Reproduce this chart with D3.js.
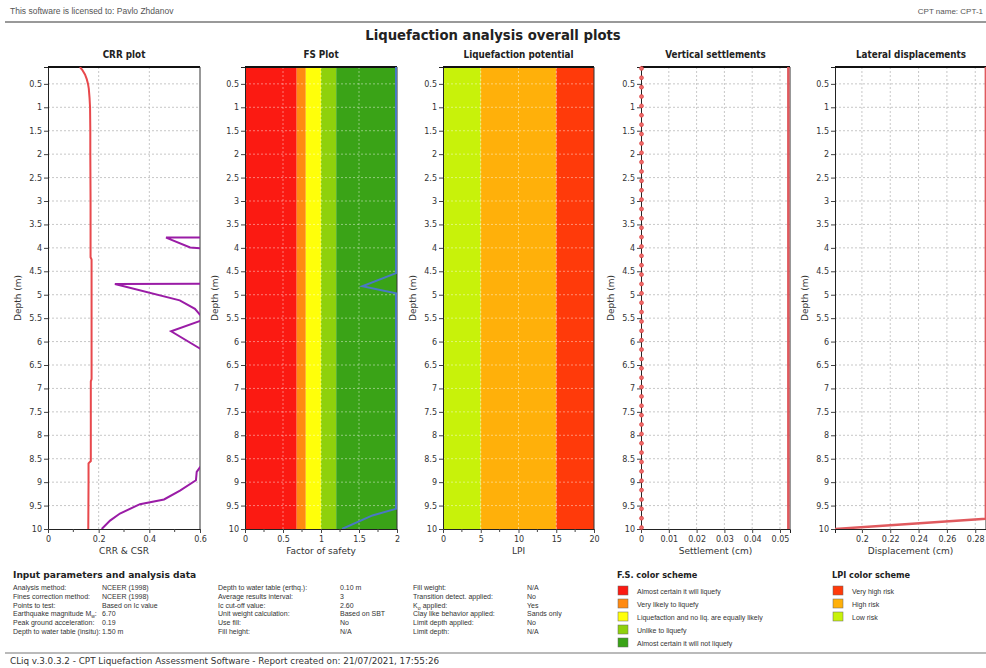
<!DOCTYPE html>
<html>
<head>
<meta charset="utf-8">
<script src="https://cdn.jsdelivr.net/npm/d3@7"></script>
<style>
  html, body { margin: 0; padding: 0; background: #fff; }
  svg { display: block; }
  text { font-family: "DejaVu Sans", sans-serif; }
  text.small { font-family: "Liberation Sans", "DejaVu Sans", sans-serif; }
  text.cond { font-family: "DejaVu Sans Condensed", "DejaVu Sans", sans-serif; }
</style>
</head>
<body>
<svg id="chart" width="986" height="668"></svg>
<script>
// ---- Data ----------------------------------------------------------------
const depthTicks = [0.5, 1, 1.5, 2, 2.5, 3, 3.5, 4, 4.5, 5, 5.5, 6, 6.5, 7, 7.5, 8, 8.5, 9, 9.5, 10];

// Cyclic stress ratio (CSR) profile
const csrDepth = [0.14, 0.2, 0.3, 0.4, 0.5, 0.6, 0.8, 1.0, 1.5, 2, 3, 4.2, 4.25, 5, 6, 6.8, 6.85, 8, 8.55, 8.6, 9, 10];
const csrValue = [0.126, 0.135, 0.146, 0.153, 0.158, 0.161, 0.164, 0.166, 0.167, 0.167, 0.168, 0.168, 0.172, 0.172, 0.172, 0.172, 0.169, 0.169, 0.169, 0.160, 0.160, 0.159];

// Cyclic resistance ratio (CRR) profile; non-liquefiable layers carry a capped value of 4
const crrDepth = [0.14, 3.75, 3.78, 3.99, 4.01, 4.03, 4.75, 4.77, 5.12, 5.3, 5.43, 5.45, 5.54, 5.56, 5.78, 6.15, 6.17, 8.66, 8.68, 8.78, 8.96, 9.18, 9.37, 9.47, 9.67, 9.82, 10.0];
const crrValue = [4.0, 4.0, 0.466, 0.561, 0.6, 4.0, 4.0, 0.264, 0.52, 0.58, 0.6, 4.0, 4.0, 0.6, 0.486, 0.6, 4.0, 4.0, 0.6, 0.587, 0.584, 0.521, 0.458, 0.363, 0.284, 0.245, 0.212];

// Factor of safety (capped at 2)
const fsDepth = [0.14, 4.54, 4.82, 4.97, 9.57, 9.71, 10.0];
const fsValue = [2, 2, 1.557, 2, 2, 1.69, 1.29];

// Colour bands
const fsBandLimits = [0, 0.68, 0.8, 1.0, 1.2, 2];
const fsBandColors = ["#fb1a12", "#ff8a12", "#ffff0a", "#8fd10c", "#3aa317"];
const fsBandNames = ["Almost certain it will liquefy", "Very likely to liquefy", "Liquefaction and no liq. are equally likely", "Unlike to liquefy", "Almost certain it will not liquefy"];

const lpiBandLimits = [0, 5, 15, 20];
const lpiBandColors = ["#c8f20a", "#ffb00a", "#ff3a0a"];
const lpiBandNames = ["Very high risk", "High risk", "Low risk"];
const lpiLegendColors = ["#ff3a0a", "#ffb00a", "#c8f20a"];

// Vertical settlements
const settlementDepth = [0.14, 10.0];
const settlementValue = [0.053, 0.053];
const layerDepth = [0.17, 0.37, 0.57, 0.77, 0.97, 1.17, 1.37, 1.57, 1.77, 1.97, 2.17, 2.37, 2.57, 2.77, 2.97, 3.17, 3.37, 3.57, 3.77, 3.97, 4.17, 4.37, 4.57, 4.77, 4.97, 5.17, 5.37, 5.57, 5.77, 5.97, 6.17, 6.37, 6.57, 6.77, 6.97, 7.17, 7.37, 7.57, 7.77, 7.97, 8.17, 8.37, 8.57, 8.77, 8.97, 9.17, 9.37, 9.57, 9.77, 9.97];
const layerSettlement = [0, 0, 0, 0, 0, 0, 0, 0, 0, 0, 0, 0, 0, 0, 0, 0, 0, 0, 0, 0, 0, 0, 0, 0, 0, 0, 0, 0, 0, 0, 0, 0, 0, 0, 0, 0, 0, 0, 0, 0, 0, 0, 0, 0, 0, 0, 0, 0, 0, 0];

// Lateral displacements
const lateralDepth = [0.14, 9.78, 10.0];
const lateralValue = [0.2875, 0.2875, 0.181];

// Input parameters table; "_" marks a subscript
const paramLabels1 = ["Analysis method:", "Fines correction method:", "Points to test:", "Earthquake magnitude M_w:", "Peak ground acceleration:", "Depth to water table (insitu):"];
const paramValues1 = ["NCEER (1998)", "NCEER (1998)", "Based on Ic value", "6.70", "0.19", "1.50 m"];
const paramLabels2 = ["Depth to water table (erthq.):", "Average results interval:", "Ic cut-off value:", "Unit weight calculation:", "Use fill:", "Fill height:"];
const paramValues2 = ["0.10 m", "3", "2.60", "Based on SBT", "No", "N/A"];
const paramLabels3 = ["Fill weight:", "Transition detect. applied:", "K_σ applied:", "Clay like behavior applied:", "Limit depth applied:", "Limit depth:"];
const paramValues3 = ["N/A", "No", "Yes", "Sands only", "No", "N/A"];

// ---- Layout --------------------------------------------------------------
const svg = d3.select("#chart");
const yTop = 67, yBot = 529;
const y = d3.scaleLinear().domain([0.14, 10]).range([yTop, yBot]);

const panels = [
  { id: "crr", title: "CRR plot", x0: 48, x1: 200, domain: [0, 0.6], major: [0, 0.2, 0.4, 0.6], minor: [0.1, 0.3, 0.5], xlabel: "CRR & CSR" },
  { id: "fs", title: "FS Plot", x0: 245, x1: 397, domain: [0, 2], major: [0, 0.5, 1, 1.5, 2], minor: [0.25, 0.75, 1.25, 1.75], xlabel: "Factor of safety" },
  { id: "lpi", title: "Liquefaction potential", x0: 443, x1: 594, domain: [0, 20], major: [0, 5, 10, 15, 20], minor: [2.5, 7.5, 12.5, 17.5], xlabel: "LPI" },
  { id: "set", title: "Vertical settlements", x0: 641, x1: 790, domain: [0, 0.0536], major: [0, 0.01, 0.02, 0.03, 0.04, 0.05], minor: [], xlabel: "Settlement (cm)" },
  { id: "lat", title: "Lateral displacements", x0: 835, x1: 986, domain: [0.181, 0.2876], major: [0.2, 0.22, 0.24, 0.26, 0.28], minor: [], xlabel: "Displacement (cm)", titleX: 911 }
];

// ---- Header --------------------------------------------------------------
svg.append("text").attr("class", "small").attr("x", 10).attr("y", 14).attr("font-size", 8.5).attr("fill", "#555")
  .text("This software is licensed to: Pavlo Zhdanov");
svg.append("text").attr("class", "small").attr("x", 983).attr("y", 14).attr("text-anchor", "end")
  .attr("font-size", 8).attr("fill", "#555").text("CPT name: CPT-1");
svg.append("line").attr("x1", 5).attr("x2", 986).attr("y1", 22).attr("y2", 22)
  .attr("stroke", "#777").attr("stroke-width", 1.5);
svg.append("text").attr("class", "cond").attr("x", 493).attr("y", 40).attr("text-anchor", "middle")
  .attr("font-size", 14.7).attr("font-weight", "bold").attr("fill", "#222")
  .text("Liquefaction analysis overall plots");

const line = d3.line().x(d => d[0]).y(d => d[1]);

panels.forEach(p => {
  const x = d3.scaleLinear().domain(p.domain).range([p.x0, p.x1]);
  p.x = x;
  const g = svg.append("g");
  const clipId = "clip-" + p.id;
  svg.append("clipPath").attr("id", clipId)
    .append("rect").attr("x", p.x0).attr("y", yTop).attr("width", p.x1 - p.x0).attr("height", yBot - yTop);
  p.clip = "url(#" + clipId + ")";

  // title
  g.append("text").attr("class", "cond").attr("x", p.titleX || (p.x0 + p.x1) / 2).attr("y", 58).attr("text-anchor", "middle")
    .attr("font-size", 9.8).attr("font-weight", "bold").attr("fill", "#222").text(p.title);

  // colour bands
  if (p.id === "fs" || p.id === "lpi") {
    const lim = p.id === "fs" ? fsBandLimits : lpiBandLimits;
    const cols = p.id === "fs" ? fsBandColors : lpiBandColors;
    g.selectAll(".band").data(cols).enter().append("rect")
      .attr("x", (d, i) => x(lim[i])).attr("width", (d, i) => x(lim[i + 1]) - x(lim[i]))
      .attr("y", yTop).attr("height", yBot - yTop).attr("fill", d => d);
  }

  // grid
  const gridCol = (p.id === "fs" || p.id === "lpi") ? "rgba(255,255,255,0.55)" : "#b9b9b9";
  g.selectAll(".hg").data(depthTicks.filter(d => d < 10)).enter().append("line")
    .attr("x1", p.x0).attr("x2", p.x1).attr("y1", d => y(d)).attr("y2", d => y(d))
    .attr("stroke", gridCol).attr("stroke-width", 0.8).attr("stroke-dasharray", "2,2");
  g.selectAll(".vg").data(p.major.filter(v => x(v) > p.x0 + 1 && x(v) < p.x1 - 1)).enter().append("line")
    .attr("x1", d => x(d)).attr("x2", d => x(d)).attr("y1", yTop).attr("y2", yBot)
    .attr("stroke", gridCol).attr("stroke-width", 0.8).attr("stroke-dasharray", "2,2");

  // y axis
  const ya = g.append("g").attr("transform", `translate(${p.x0},0)`)
    .call(d3.axisLeft(y).tickValues(depthTicks).tickSize(4).tickPadding(2).tickFormat(d => String(d)));
  ya.select(".domain").attr("stroke", "#222");
  ya.selectAll("line").attr("stroke", "#444");
  ya.selectAll("text").attr("font-size", 8).attr("fill", "#333")
    .style("font-family", '"DejaVu Sans", sans-serif');

  // x axis
  const xa = g.append("g").attr("transform", `translate(0,${yBot})`)
    .call(d3.axisBottom(x).tickValues(p.major).tickSize(4).tickPadding(3).tickFormat(d => String(+d.toFixed(3))));
  xa.select(".domain").attr("stroke", "#222");
  xa.selectAll("line").attr("stroke", "#444");
  xa.selectAll("text").attr("font-size", 8).attr("fill", "#333")
    .style("font-family", '"DejaVu Sans", sans-serif');
  g.selectAll(".minor").data(p.minor).enter().append("line")
    .attr("x1", d => x(d)).attr("x2", d => x(d)).attr("y1", yBot).attr("y2", yBot + 3)
    .attr("stroke", "#444");

  // frame
  g.append("line").attr("x1", p.x0).attr("x2", p.x1).attr("y1", yTop).attr("y2", yTop)
    .attr("stroke", "#111").attr("stroke-width", 2);
  g.append("line").attr("x1", p.x1).attr("x2", p.x1).attr("y1", yTop).attr("y2", yBot)
    .attr("stroke", "#333").attr("stroke-width", 1);

  // labels
  g.append("text").attr("x", (p.x0 + p.x1) / 2).attr("y", 554).attr("text-anchor", "middle")
    .attr("font-size", 9).attr("fill", "#333").text(p.xlabel);
  g.append("text").attr("transform", `translate(${p.x0 - 27},298) rotate(-90)`).attr("text-anchor", "middle")
    .attr("font-size", 9).attr("fill", "#333").text("Depth (m)");
});

// ---- Curves --------------------------------------------------------------
const pC = panels[0], pF = panels[1], pS = panels[3], pL = panels[4];

svg.append("path").attr("clip-path", pC.clip)
  .attr("d", line(csrDepth.map((d, i) => [pC.x(csrValue[i]), y(d)])))
  .attr("fill", "none").attr("stroke", "#e8484c").attr("stroke-width", 2);
svg.append("path").attr("clip-path", pC.clip)
  .attr("d", line(crrDepth.map((d, i) => [pC.x(crrValue[i]), y(d)])))
  .attr("fill", "none").attr("stroke", "#9a1ca6").attr("stroke-width", 2);

svg.append("path").attr("clip-path", pF.clip)
  .attr("d", line(fsDepth.map((d, i) => [pF.x(fsValue[i]) - 1, y(d)])))
  .attr("fill", "none").attr("stroke", "#4a78c4").attr("stroke-width", 2);

svg.append("path").attr("clip-path", pS.clip)
  .attr("d", line(settlementDepth.map((d, i) => [pS.x(settlementValue[i]), y(d)])))
  .attr("fill", "none").attr("stroke", "#e05a5e").attr("stroke-width", 2.5);
svg.selectAll(".layer").data(layerDepth).enter().append("circle")
  .attr("cx", (d, i) => pS.x(layerSettlement[i]) + 0.5).attr("cy", d => y(d)).attr("r", 2)
  .attr("fill", "#f06a6a").attr("stroke", "#d83a3a").attr("stroke-width", 0.6);

svg.append("path").attr("clip-path", pL.clip)
  .attr("d", line(lateralDepth.map((d, i) => [pL.x(lateralValue[i]), y(d)])))
  .attr("fill", "none").attr("stroke", "#e05a5e").attr("stroke-width", 2.5);

// ---- Input parameters ----------------------------------------------------
const rowY = [590, 599, 607.5, 616, 625, 633.5];
const smallSize = 7;
svg.append("text").attr("x", 13).attr("y", 578).attr("font-size", 9.1).attr("font-weight", "bold")
  .attr("fill", "#222").text("Input parameters and analysis data");

// writes a label, turning "X_y" into X with a subscript y
function richText(sel, str) {
  const m = str.match(/^(.*?)_(\S)(.*)$/);
  if (!m) { sel.text(str); return; }
  sel.append("tspan").text(m[1]);
  sel.append("tspan").attr("font-size", smallSize - 2).attr("dy", 2).text(m[2]);
  sel.append("tspan").attr("dy", -2).text(m[3]);
}
function paramColumn(labels, values, xl, xv) {
  labels.forEach((t, i) => {
    richText(svg.append("text").attr("class", "small").attr("x", xl).attr("y", rowY[i])
      .attr("font-size", smallSize).attr("fill", "#333"), t);
    svg.append("text").attr("class", "small").attr("x", xv).attr("y", rowY[i])
      .attr("font-size", smallSize).attr("fill", "#333").text(values[i]);
  });
}
paramColumn(paramLabels1, paramValues1, 13, 102);
paramColumn(paramLabels2, paramValues2, 218, 340);
paramColumn(paramLabels3, paramValues3, 413, 527);

// ---- Legends ---------------------------------------------------------------
svg.append("text").attr("x", 617).attr("y", 578).attr("font-size", 8.2).attr("font-weight", "bold")
  .attr("fill", "#222").text("F.S. color scheme");
fsBandNames.forEach((t, i) => {
  const yy = 586 + i * 13;
  svg.append("rect").attr("x", 618).attr("y", yy).attr("width", 10).attr("height", 9)
    .attr("fill", fsBandColors[i]).attr("stroke", "#666").attr("stroke-width", 0.5);
  svg.append("text").attr("class", "small").attr("x", 637).attr("y", yy + 7.5)
    .attr("font-size", smallSize).attr("fill", "#333").text(t);
});
svg.append("text").attr("x", 832).attr("y", 578).attr("font-size", 8.2).attr("font-weight", "bold")
  .attr("fill", "#222").text("LPI color scheme");
lpiBandNames.forEach((t, i) => {
  const yy = 586 + i * 13;
  svg.append("rect").attr("x", 833).attr("y", yy).attr("width", 10).attr("height", 9)
    .attr("fill", lpiLegendColors[i]).attr("stroke", "#666").attr("stroke-width", 0.5);
  svg.append("text").attr("class", "small").attr("x", 852).attr("y", yy + 7.5)
    .attr("font-size", smallSize).attr("fill", "#333").text(t);
});

// ---- Footer ----------------------------------------------------------------
svg.append("line").attr("x1", 5).attr("x2", 986).attr("y1", 653).attr("y2", 653)
  .attr("stroke", "#777").attr("stroke-width", 1.2);
svg.append("text").attr("x", 10).attr("y", 664).attr("font-size", 8.8).attr("fill", "#333")
  .text("CLiq v.3.0.3.2 - CPT Liquefaction Assessment Software - Report created on: 21/07/2021, 17:55:26");
</script>
</body>
</html>
